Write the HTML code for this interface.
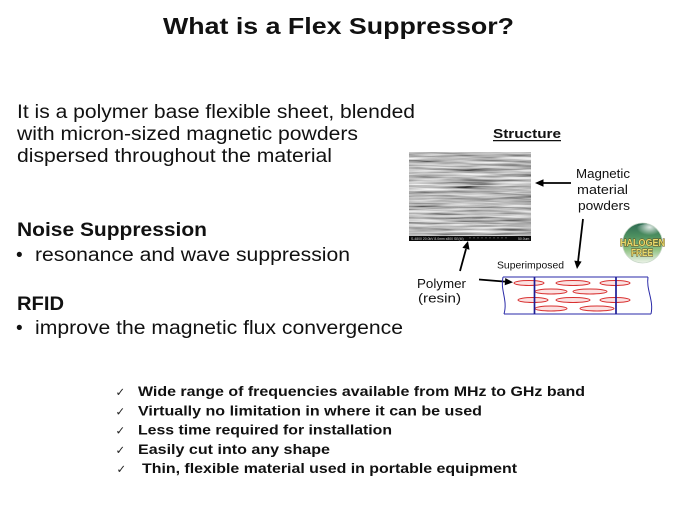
<!DOCTYPE html>
<html>
<head>
<meta charset="utf-8">
<style>
  html, body { margin: 0; padding: 0; background: #ffffff; }
  svg { display: block; }
  .sans { font-family: "Liberation Sans", Arial, sans-serif; }
</style>
</head>
<body>
<svg width="675" height="506" viewBox="0 0 675 506" xmlns="http://www.w3.org/2000/svg">
  <defs>
    <filter id="sem" x="409" y="152" width="122" height="89" filterUnits="userSpaceOnUse">
      <feTurbulence type="fractalNoise" baseFrequency="0.02 0.45" numOctaves="3" seed="7" result="t"/>
      <feColorMatrix in="t" type="matrix"
        values="1.3 0 0 0 -0.16
                1.3 0 0 0 -0.16
                1.3 0 0 0 -0.16
                0 0 0 0 1"/>
    </filter>
    <linearGradient id="ball" x1="0" y1="0" x2="0" y2="1">
      <stop offset="0" stop-color="#2d6a52"/>
      <stop offset="0.35" stop-color="#4f9260"/>
      <stop offset="0.65" stop-color="#8cc080"/>
      <stop offset="1" stop-color="#eef4ea"/>
    </linearGradient>
    <radialGradient id="shine" cx="0.6" cy="0.2" r="0.5">
      <stop offset="0" stop-color="#ffffff" stop-opacity="0.85"/>
      <stop offset="1" stop-color="#ffffff" stop-opacity="0"/>
    </radialGradient>
  </defs>

  <rect x="0" y="0" width="675" height="506" fill="#ffffff"/>

  <!-- Title -->
  <text class="sans" x="163" y="34" font-size="23" font-weight="bold" fill="#111"
        textLength="351" lengthAdjust="spacingAndGlyphs">What is a Flex Suppressor?</text>

  <!-- Body paragraph -->
  <g class="sans" font-size="19" fill="#111">
    <text x="17" y="118" textLength="398" lengthAdjust="spacingAndGlyphs">It is a polymer base flexible sheet, blended</text>
    <text x="17" y="140" textLength="341" lengthAdjust="spacingAndGlyphs">with micron-sized magnetic powders</text>
    <text x="17" y="162" textLength="315" lengthAdjust="spacingAndGlyphs">dispersed throughout the material</text>

    <text x="17" y="236" font-weight="bold" textLength="190" lengthAdjust="spacingAndGlyphs">Noise Suppression</text>
    <text x="16" y="261">•</text>
    <text x="35" y="261" textLength="315" lengthAdjust="spacingAndGlyphs">resonance and wave suppression</text>

    <text x="17" y="310" font-weight="bold" textLength="47" lengthAdjust="spacingAndGlyphs">RFID</text>
    <text x="16" y="334">•</text>
    <text x="35" y="334" textLength="368" lengthAdjust="spacingAndGlyphs">improve the magnetic flux convergence</text>
  </g>

  <!-- Structure label -->
  <text class="sans" x="493" y="138" font-size="13" font-weight="bold" fill="#111"
        textLength="68" lengthAdjust="spacingAndGlyphs">Structure</text>
  <line x1="493" y1="140.6" x2="561" y2="140.6" stroke="#111" stroke-width="1.2"/>

  <!-- SEM image -->
  <rect x="409" y="152" width="122" height="89" fill="#7a7a7a"/>
  <rect x="409" y="152" width="122" height="89" filter="url(#sem)"/>
  <rect x="409" y="236" width="122" height="5" fill="#0a0a0a"/>
  <text class="sans" x="411" y="239.8" font-size="3.4" fill="#cfcfcf">S-4800 20.0kV 8.0mm x800 SE(M)</text>
  <text class="sans" x="518" y="239.8" font-size="3.4" fill="#cfcfcf">50.0um</text>
  <g stroke="#bbb" stroke-width="0.5">
    <line x1="470" y1="237" x2="470" y2="238.5"/>
    <line x1="474" y1="237" x2="474" y2="238.5"/>
    <line x1="478" y1="237" x2="478" y2="238.5"/>
    <line x1="482" y1="237" x2="482" y2="238.5"/>
    <line x1="486" y1="237" x2="486" y2="238.5"/>
    <line x1="490" y1="237" x2="490" y2="238.5"/>
    <line x1="494" y1="237" x2="494" y2="238.5"/>
    <line x1="498" y1="237" x2="498" y2="238.5"/>
    <line x1="502" y1="237" x2="502" y2="238.5"/>
    <line x1="506" y1="237" x2="506" y2="238.5"/>
  </g>

  <!-- Magnetic material powders label -->
  <g class="sans" font-size="12.5" fill="#111">
    <text x="576" y="178" textLength="54" lengthAdjust="spacingAndGlyphs">Magnetic</text>
    <text x="577" y="194" textLength="51" lengthAdjust="spacingAndGlyphs">material</text>
    <text x="578" y="210" textLength="52" lengthAdjust="spacingAndGlyphs">powders</text>
  </g>

  <!-- Arrows -->
  <g stroke="#000" stroke-width="1.8" fill="none">
    <line x1="571" y1="183" x2="542" y2="183"/>
    <line x1="583" y1="219" x2="578" y2="262"/>
    <line x1="460" y1="271" x2="466" y2="249"/>
    <line x1="479" y1="279.5" x2="505" y2="281.6"/>
  </g>
  <g fill="#000">
    <polygon points="535,183 543.5,179.2 543.5,186.8"/>
    <polygon points="577,269 581.6,261.5 574.3,260.6"/>
    <polygon points="468,241 469.5,249.7 462.4,247.8"/>
    <polygon points="513,282.3 504.7,285.3 505.3,278"/>
  </g>

  <!-- Polymer (resin) label -->
  <g class="sans" font-size="13" fill="#111">
    <text x="417" y="288" textLength="49" lengthAdjust="spacingAndGlyphs">Polymer</text>
    <text x="418" y="302.5" textLength="43" lengthAdjust="spacingAndGlyphs">(resin)</text>
  </g>

  <!-- Superimposed label -->
  <text class="sans" x="497" y="268.5" font-size="10" fill="#111"
        textLength="67" lengthAdjust="spacingAndGlyphs">Superimposed</text>

  <!-- Superimposed structure box -->
  <g stroke="#2a2aa8" stroke-width="1" fill="none">
    <line x1="503" y1="277" x2="648" y2="277"/>
    <line x1="504" y1="314" x2="651" y2="314"/>
    <path d="M503,277 C500,290 508,300 504,314"/>
    <path d="M648,277 C646,290 654,300 651,314"/>
  </g>
  <g stroke="#d83030" stroke-width="1" fill="#fbe2e2">
    <ellipse cx="529" cy="283" rx="15" ry="2.5"/>
    <ellipse cx="573" cy="283" rx="17" ry="2.5"/>
    <ellipse cx="615" cy="283" rx="15" ry="2.5"/>
    <ellipse cx="551" cy="291.5" rx="16" ry="2.5"/>
    <ellipse cx="590" cy="291.5" rx="17" ry="2.5"/>
    <ellipse cx="533" cy="300" rx="15" ry="2.5"/>
    <ellipse cx="573" cy="300" rx="17" ry="2.5"/>
    <ellipse cx="615" cy="300" rx="15" ry="2.5"/>
    <ellipse cx="551" cy="308.5" rx="16" ry="2.5"/>
    <ellipse cx="597" cy="308.5" rx="17" ry="2.5"/>
  </g>
  <g stroke="#1c1c96" stroke-width="1.7">
    <line x1="534.5" y1="277" x2="534.5" y2="314"/>
    <line x1="616" y1="277" x2="616" y2="314"/>
  </g>

  <!-- Halogen free badge -->
  <circle cx="642.5" cy="243" r="20" fill="url(#ball)"/>
  <ellipse cx="647" cy="232" rx="13" ry="8" fill="url(#shine)"/>
  <circle cx="642.5" cy="243" r="20" fill="none" stroke="#c8d8c8" stroke-width="0.8"/>
  <g class="sans" font-weight="bold" font-size="10.5" fill="#e8da6c" stroke="#5a4418" stroke-width="0.9" paint-order="stroke">
    <text x="620" y="246" textLength="45" lengthAdjust="spacingAndGlyphs">HALOGEN</text>
    <text x="631" y="256" textLength="22" lengthAdjust="spacingAndGlyphs">FREE</text>
  </g>

  <!-- Checklist -->
  <g font-family="'DejaVu Sans', sans-serif" font-size="11.5" fill="#222">
    <text x="115.5" y="396">✓</text>
    <text x="115.5" y="415.5">✓</text>
    <text x="115.5" y="434.5">✓</text>
    <text x="115.5" y="454">✓</text>
    <text x="116.5" y="473">✓</text>
  </g>
  <g class="sans" font-size="14" font-weight="bold" fill="#111">
    <text x="138" y="396" textLength="447" lengthAdjust="spacingAndGlyphs">Wide range of frequencies available from MHz to GHz band</text>
    <text x="138" y="415.5" textLength="344" lengthAdjust="spacingAndGlyphs">Virtually no limitation in where it can be used</text>
    <text x="138" y="434.5" textLength="254" lengthAdjust="spacingAndGlyphs">Less time required for installation</text>
    <text x="138" y="454" textLength="192" lengthAdjust="spacingAndGlyphs">Easily cut into any shape</text>
    <text x="142" y="473" textLength="375" lengthAdjust="spacingAndGlyphs">Thin, flexible material used in portable equipment</text>
  </g>
</svg>
</body>
</html>
